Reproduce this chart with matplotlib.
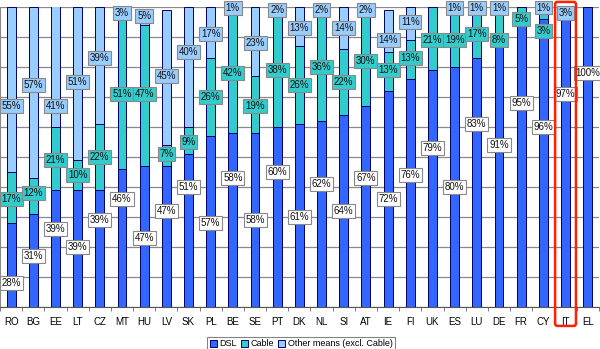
import numpy as np
import matplotlib
matplotlib.use('Agg')
import matplotlib.pyplot as plt
from matplotlib.patches import FancyBboxPatch

plt.rcParams['font.family'] = ['Liberation Sans', 'DejaVu Sans']

# ─── Data (% of broadband lines by technology) ───
countries = ['RO', 'BG', 'EE', 'LT', 'CZ', 'MT', 'HU', 'LV', 'SK', 'PL', 'BE', 'SE', 'PT',
             'DK', 'NL', 'SI', 'AT', 'IE', 'FI', 'UK', 'ES', 'LU', 'DE', 'FR', 'CY', 'IT', 'EL']
dsl   = [28, 31, 39, 39, 39, 46, 47, 47, 51, 57, 58, 58, 60, 61, 62, 64, 67, 72, 76, 79, 80, 83, 91, 95, 96, 97, 100]
cable = [17, 12, 21, 10, 22, 51, 47, 7, 9, 26, 42, 19, 38, 26, 36, 22, 30, 13, 13, 21, 19, 17, 8, 5, 3, 0, 0]
other = [55, 57, 41, 51, 39, 3, 5, 45, 40, 17, 1, 23, 2, 13, 2, 14, 2, 14, 11, 0, 1, 1, 1, 0, 1, 3, 0]
highlight = 'IT'

# ─── Layout: where each value label sits (in % units), as placed in the original ───
dsl_lab_y   = [8, 17, 26, 20, 29, 36, 23, 32, 40, 28, 43, 29, 45, 30, 41, 32, 43, 36, 44, 53, 40, 61, 54, 68, 60, 71, 78]
cable_lab_y = [36, 38, 49, 44, 50, 71, 71, 51, 55, 70, 78, 67, 79, 74, 80, 75, 82, 79, 83, 89, 89, 91, 89, 96, 92, 0, 0]
other_lab_y = [67, 74, 67, 75, 83, 98, 97, 77, 85, 91, 99.6, 88, 99, 93, 99, 93, 99, 89, 95, 0, 99.6, 99.6, 99.6, 0, 99.8, 98, 0]

c_dsl, c_cable, c_other = '#3366FF', '#33CCCC', '#99CCFF'
edge = '#000066'

x = np.arange(len(countries))
dsl = np.array(dsl); cable = np.array(cable); other = np.array(other)

fig = plt.figure(figsize=(6.0, 3.49), dpi=100)
ax = fig.add_axes([0.0, 0.1203, 0.998, 0.8596])

w = 0.4
ax.bar(x, dsl, w, color=c_dsl, edgecolor=edge, lw=0.7, label='DSL', zorder=2)
ax.bar(x, cable, w, bottom=dsl, color=c_cable, edgecolor=edge, lw=0.7, label='Cable', zorder=2)
ax.bar(x, other, w, bottom=dsl + cable, color=c_other, edgecolor=edge, lw=0.7,
       label='Other means (excl. Cable)', zorder=2)

def put_labels(vals, ys, face):
    for i, (v, y) in enumerate(zip(vals, ys)):
        if v <= 0:
            continue
        ax.text(x[i], y, f'{v}%', ha='center', va='center', fontsize=7, color='#111111', zorder=5,
                bbox=dict(boxstyle='square,pad=0.18', fc=face, ec='#888888', lw=0.8))

put_labels(dsl, dsl_lab_y, 'white')
put_labels(cable, cable_lab_y, c_cable)
put_labels(other, other_lab_y, c_other)

ax.set_xlim(-0.5, len(countries) - 0.5)
ax.set_ylim(0, 100)
ax.set_yticks(np.arange(0, 101, 10))
ax.yaxis.grid(True, color='#888888', lw=0.9, zorder=0)
ax.set_axisbelow(True)
ax.tick_params(axis='y', left=False, labelleft=False)

ax.set_xticks(x)
ax.set_xticklabels(countries, fontsize=7)
ax.tick_params(axis='x', which='major', length=0, pad=7)
ax.set_xticks(np.arange(-0.5, len(countries), 1), minor=True)
ax.tick_params(axis='x', which='minor', length=3, color='#666666', direction='out')

for s in ['top', 'right']:
    ax.spines[s].set_visible(False)
ax.spines['left'].set_color('#888888')
ax.spines['bottom'].set_color('#555555')

# red frame around the highlighted country
i = countries.index(highlight)
rect = FancyBboxPatch((i - 0.47, -6.3), 0.94, 108.0, boxstyle='round,pad=0,rounding_size=0.1',
                      fill=False, ec='#FF2200', lw=1.8, clip_on=False, zorder=6,
                      mutation_aspect=8)
ax.add_patch(rect)

leg = ax.legend(loc='center', bbox_to_anchor=(0.503, -0.123), ncol=3, fontsize=6.5,
                frameon=True, fancybox=False, edgecolor='#666666', handlelength=0.8,
                handleheight=0.8, handletextpad=0.3, columnspacing=0.4, borderpad=0.25,
                borderaxespad=0)
leg.get_frame().set_linewidth(0.8)

fig.savefig('out.png', dpi=100)
